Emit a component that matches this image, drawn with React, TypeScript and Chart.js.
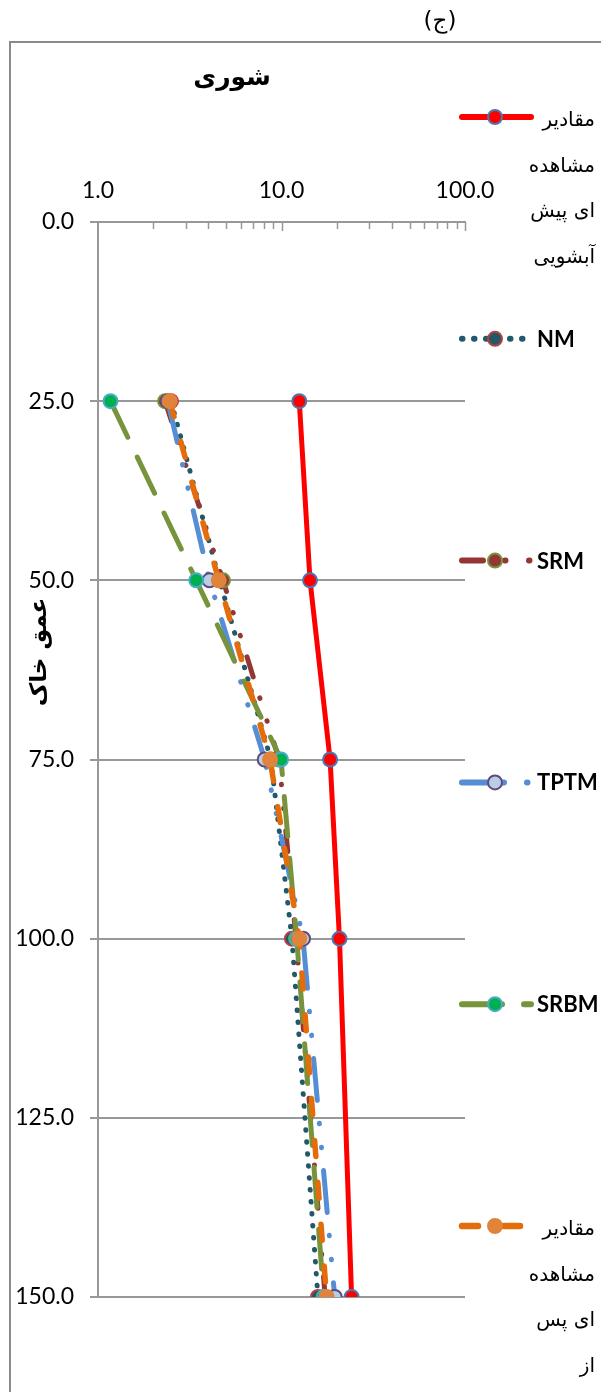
import React, { useEffect, useRef } from "react";
import { Chart, registerables } from "chart.js";

Chart.register(...registerables);

// ---------- data ----------
const depths = [25, 50, 75, 100, 150];
const preLeaching = [12.5, 14.3, 18.4, 20.7, 24.1];
const nmValues = [2.5, 4.6, 8.75, 11.4, 15.8];
const srmValues = [2.32, 4.8, 9.7, 12.0, 17.3];
const tptmValues = [2.4, 4.05, 8.1, 13.1, 19.5];
const srbmValues = [1.17, 3.43, 9.94, 12.1, 17.0];
const postLeaching = [2.46, 4.55, 8.66, 12.5, 17.6];

const xTickValues = [1, 10, 100];
const xMinorTickValues = [2, 3, 4, 5, 6, 7, 8, 9, 20, 30, 40, 50, 60, 70, 80, 90];
const yTickValues = [0, 25, 50, 75, 100, 125, 150];

const seriesLabels = [
  ["مقادیر", "مشاهده", "ای پیش", "آبشویی"],
  ["NM"],
  ["SRM"],
  ["TPTM"],
  ["SRBM"],
  ["مقادیر", "مشاهده", "ای پس", "از", "آبشویی"],
];

const chartTitle = "شوری";
const yAxisTitle = "عمق خاک";
const panelLabel = "(ج)";

// ---------- styles ----------
const GRID = "#989898";
const LATIN = "Lato, 'Open Sans', sans-serif";
const PERSIAN = "'DejaVu Sans', sans-serif";

const seriesStyles = [
  { line: "#ff0000", fill: "#ff0000", border: "#4a78b0", width: 5, dash: [] as number[] },
  { line: "#215968", fill: "#215968", border: "#b8403d", width: 5, dash: [0.5, 11.5] },
  { line: "#943634", fill: "#943634", border: "#77933c", width: 5, dash: [21, 22, 0.5, 23.5, 0.5, 22] },
  { line: "#558ed5", fill: "#b9cde5", border: "#604a7b", width: 5, dash: [42, 23, 0.5, 23.5, 0.5, 23] },
  { line: "#77933c", fill: "#00b050", border: "#4bacc6", width: 5, dash: [40, 22] },
  { line: "#e46c0a", fill: "#e0843c", border: "#e0843c", width: 5.5, dash: [16, 26] },
];

const seriesValues = [preLeaching, nmValues, srmValues, tptmValues, srbmValues, postLeaching];

const decorPlugin = {
  id: "decor",
  beforeDraw(chart: any) {
    const ctx = chart.ctx;
    ctx.save();
    ctx.fillStyle = "#ffffff";
    ctx.fillRect(0, 0, chart.width, chart.height);
    // outer frame (extends beyond the picture on right and bottom)
    ctx.strokeStyle = "#8a8a8a";
    ctx.lineWidth = 2;
    ctx.strokeRect(10, 42, chart.width + 20, chart.height + 20);
    // panel label
    ctx.fillStyle = "#000";
    ctx.font = `23px ${PERSIAN}`;
    ctx.textAlign = "center";
    ctx.textBaseline = "middle";
    ctx.fillText(panelLabel, 440, 22);
    ctx.restore();
  },
  afterDraw(chart: any) {
    const ctx = chart.ctx;
    const xs = chart.scales.x;
    const top = chart.chartArea.top;
    ctx.save();
    // inside tick marks on the top log axis
    ctx.strokeStyle = GRID;
    ctx.lineWidth = 1.5;
    ctx.beginPath();
    xMinorTickValues.forEach((v) => {
      const px = Math.round(xs.getPixelForValue(v)) + 0.5;
      ctx.moveTo(px, top);
      ctx.lineTo(px, top + 7);
    });
    xTickValues.slice(1).forEach((v) => {
      const px = Math.round(xs.getPixelForValue(v)) + 0.5;
      ctx.moveTo(px, top);
      ctx.lineTo(px, top + 9);
    });
    ctx.stroke();

    // chart title
    ctx.fillStyle = "#000";
    ctx.font = `bold 25px ${PERSIAN}`;
    ctx.textAlign = "center";
    ctx.textBaseline = "middle";
    ctx.fillText(chartTitle, 232, 78);

    // y axis title
    ctx.save();
    ctx.translate(40, 652);
    ctx.rotate(-Math.PI / 2);
    ctx.font = `bold 23px ${PERSIAN}`;
    ctx.fillText(yAxisTitle, 0, 0);
    ctx.restore();

    // legend
    chart.data.datasets.forEach((ds: any, i: number) => {
      const y = 117 + 221.8 * i;
      ctx.save();
      ctx.strokeStyle = ds.borderColor;
      ctx.lineWidth = ds.borderWidth + 1;
      ctx.lineCap = "round";
      ctx.setLineDash(ds.borderDash || []);
      ctx.beginPath();
      ctx.moveTo(462, y);
      ctx.lineTo(531, y);
      ctx.stroke();
      ctx.setLineDash([]);
      ctx.beginPath();
      ctx.arc(495, y, 7, 0, Math.PI * 2);
      ctx.fillStyle = ds.pointBackgroundColor;
      ctx.fill();
      ctx.lineWidth = 2;
      ctx.strokeStyle = ds.pointBorderColor;
      ctx.stroke();
      ctx.fillStyle = "#000";
      const lines: string[] = seriesLabels[i];
      if (lines.length === 1) {
        ctx.font = `bold 22px ${LATIN}`;
        ctx.textAlign = "left";
        ctx.textBaseline = "middle";
        ctx.fillText(lines[0], 537, y + 1);
      } else {
        ctx.font = `20px ${PERSIAN}`;
        ctx.textAlign = "right";
        ctx.textBaseline = "middle";
        lines.forEach((t, k) => ctx.fillText(t, 595, y + 4 + 45.5 * k));
      }
      ctx.restore();
    });
    ctx.restore();
  },
};

export default function App() {
  const canvasRef = useRef<HTMLCanvasElement | null>(null);

  useEffect(() => {
    document.body.style.margin = "0";
    const canvas = canvasRef.current;
    if (!canvas) return;
    const datasets = seriesValues.map((vals, i) => {
      const st = seriesStyles[i];
      return {
        label: seriesLabels[i].join(" "),
        data: depths.map((d, k) => ({ x: vals[k], y: d })),
        showLine: true,
        borderColor: st.line,
        backgroundColor: st.fill,
        borderWidth: st.width,
        borderDash: st.dash,
        borderCapStyle: "round",
        borderJoinStyle: "round",
        pointRadius: 7,
        pointBorderWidth: 2,
        pointBackgroundColor: st.fill,
        pointBorderColor: st.border,
        pointHoverRadius: 7,
        tension: 0,
        order: seriesValues.length - 1 - i,
      };
    });

    const chart = new Chart(canvas, {
      type: "scatter",
      data: { datasets },
      options: {
        responsive: false,
        devicePixelRatio: 1,
        animation: false,
        layout: { padding: { left: 0, top: 0, right: 136, bottom: 95 } },
        plugins: {
          legend: { display: false },
          tooltip: { enabled: false },
          title: { display: false },
        },
        scales: {
          x: {
            type: "logarithmic",
            position: "top",
            min: 1,
            max: 100,
            afterBuildTicks: (scale: any) => {
              scale.ticks = xTickValues.map((v) => ({ value: v }));
            },
            afterFit: (scale: any) => {
              scale.height = 222;
            },
            ticks: {
              autoSkip: false,
              maxRotation: 0,
              padding: 18,
              color: "#000",
              font: { family: LATIN, size: 23 },
              callback: (v: any) => Number(v).toFixed(1),
            },
            grid: { display: false, drawTicks: false },
            border: { display: true, color: GRID, width: 2 },
          },
          y: {
            type: "linear",
            reverse: true,
            min: 0,
            max: 150,
            afterBuildTicks: (scale: any) => {
              scale.ticks = yTickValues.map((v) => ({ value: v }));
            },
            afterFit: (scale: any) => {
              scale.width = 98;
            },
            ticks: {
              padding: 16,
              color: "#000",
              font: { family: LATIN, size: 23 },
              callback: (v: any) => Number(v).toFixed(1),
            },
            grid: { display: true, color: GRID, lineWidth: 2, tickLength: 8, drawTicks: true },
            border: { display: true, color: GRID, width: 2 },
          },
        },
      },
      plugins: [decorPlugin],
    } as any);
    return () => chart.destroy();
  }, []);

  return (
    <div style={{ position: "absolute", left: 0, top: 0, width: 601, height: 1392, overflow: "hidden" }}>
      <canvas ref={canvasRef} width={601} height={1392} style={{ display: "block" }} />
    </div>
  );
}
